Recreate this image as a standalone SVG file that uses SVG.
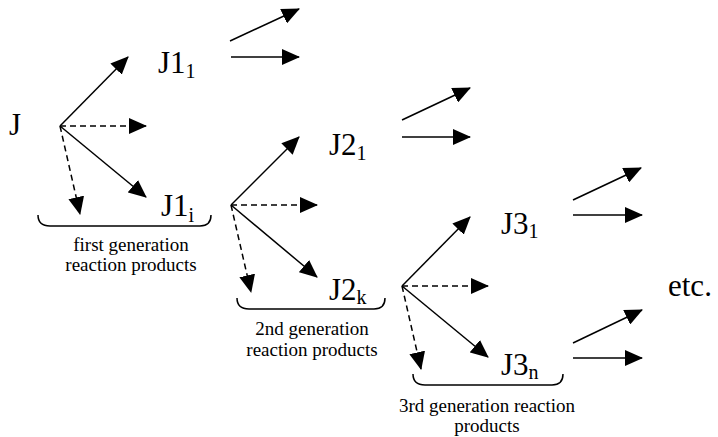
<svg xmlns="http://www.w3.org/2000/svg" width="718" height="437" viewBox="0 0 718 437">
<style>
.n{font-size:31px}
.s{font-size:20px}
.l{font-size:19px;text-anchor:middle}
.a{stroke:#000;stroke-width:1.5;fill:none;marker-end:url(#ah)}
.d{stroke-dasharray:6 4}
.b{stroke:#000;stroke-width:1.5;fill:none}
</style>
<defs>
<marker id="ah" markerUnits="userSpaceOnUse" markerWidth="18" markerHeight="16" refX="17" refY="8" orient="auto">
<path d="M0,0 L18,8 L0,16 Z" fill="#000"/>
</marker>
</defs>
<rect width="718" height="437" fill="#fff"/>
<g id="connectors">
<line class="a" x1="60" y1="126" x2="128" y2="57"/>
<line class="a d" x1="60" y1="126" x2="146" y2="126"/>
<line class="a" x1="60" y1="126" x2="146" y2="197"/>
<line class="a d" x1="60" y1="126" x2="80" y2="214"/>
<line class="a" x1="230" y1="41" x2="299" y2="9"/>
<line class="a" x1="231" y1="57" x2="299" y2="57"/>
<line class="a" x1="231" y1="205" x2="299" y2="137"/>
<line class="a d" x1="231" y1="205" x2="317" y2="205"/>
<line class="a" x1="231" y1="205" x2="317" y2="277"/>
<line class="a d" x1="231" y1="205" x2="251" y2="292"/>
<line class="a" x1="402" y1="120" x2="470" y2="88"/>
<line class="a" x1="402" y1="137" x2="470" y2="137"/>
<line class="a" x1="402" y1="286" x2="470" y2="217"/>
<line class="a d" x1="402" y1="286" x2="488" y2="286"/>
<line class="a" x1="402" y1="286" x2="488" y2="357"/>
<line class="a d" x1="402" y1="286" x2="421" y2="369"/>
<line class="a" x1="573" y1="200" x2="641" y2="168"/>
<line class="a" x1="573" y1="215" x2="642" y2="215"/>
<line class="a" x1="573" y1="343" x2="642" y2="310"/>
<line class="a" x1="573" y1="358" x2="642" y2="358"/>
</g>
<g font-family="'Liberation Serif', 'Times New Roman', 'DejaVu Serif', serif" fill="#000">
<g id="J"><text class="n" x="9" y="135">J</text></g>
<g id="J1_1"><text class="n" x="158" y="73">J1<tspan class="s" dy="5">1</tspan></text></g>
<g id="J1_i"><text class="n" x="161" y="216">J1<tspan class="s" dy="6">i</tspan></text></g>
<g id="J2_1"><text class="n" x="329" y="155">J2<tspan class="s" dy="5">1</tspan></text></g>
<g id="J2_k"><text class="n" x="329" y="300">J2<tspan class="s" dy="4">k</tspan></text></g>
<g id="J3_1"><text class="n" x="501" y="234">J3<tspan class="s" dy="4">1</tspan></text></g>
<g id="J3_n"><text class="n" x="501" y="375">J3<tspan class="s" dy="4">n</tspan></text></g>
<g id="etc"><text class="n" x="668" y="296" font-size="32">etc.</text></g>
<g id="gen1">
<path class="b" d="M38,215 Q38,226 50,226 L200,226 Q211,226 211,215"/>
<text class="l" x="131" y="251">first generation</text>
<text class="l" x="131" y="271">reaction products</text>
</g>
<g id="gen2">
<path class="b" d="M237,298 Q237,309 249,309 L374,309 Q385,309 385,298"/>
<text class="l" x="312" y="335">2nd generation</text>
<text class="l" x="312" y="356">reaction products</text>
</g>
<g id="gen3">
<path class="b" d="M413,374 Q413,385 425,385 L552,385 Q563,385 563,374"/>
<text class="l" x="487" y="412">3rd generation reaction</text>
<text class="l" x="487" y="432">products</text>
</g>
</g>
</svg>
